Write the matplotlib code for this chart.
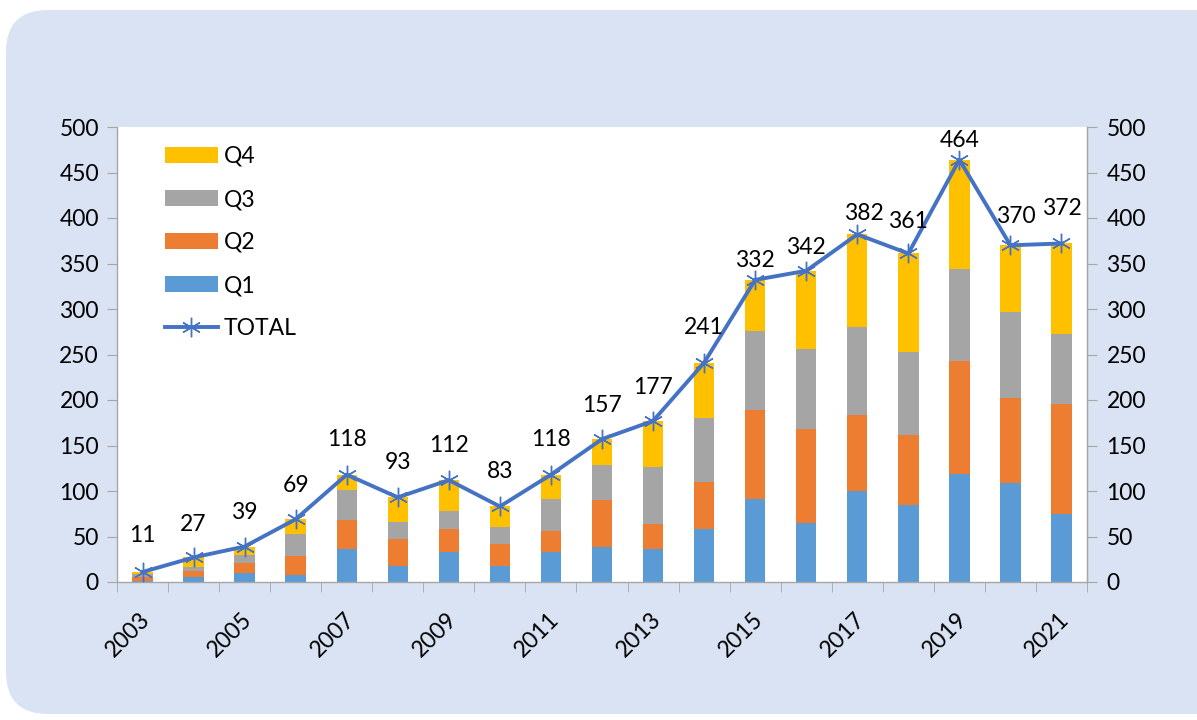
import matplotlib
matplotlib.use("Agg")
import matplotlib.pyplot as plt
from matplotlib.patches import FancyBboxPatch, Patch
from matplotlib.lines import Line2D
import matplotlib.transforms as mtransforms
import numpy as np

# --- data ---
years = list(range(2003, 2022))
q1 = [1, 5, 10, 8, 36, 18, 33, 18, 33, 38, 36, 58, 91, 65, 100, 85, 119, 109, 75]
q2 = [5, 7, 11, 21, 32, 29, 25, 24, 23, 52, 28, 52, 98, 103, 83, 77, 124, 93, 121]
q3 = [3, 5, 9, 24, 33, 19, 20, 18, 35, 39, 62, 70, 87, 88, 97, 91, 101, 95, 77]
q4 = [2, 10, 9, 16, 17, 27, 34, 23, 27, 28, 51, 61, 56, 86, 102, 108, 120, 73, 99]
total = [11, 27, 39, 69, 118, 93, 112, 83, 118, 157, 177, 241, 332, 342, 382, 361, 464, 370, 372]

# label placement (pixels above / right of each TOTAL point)
label_dy = [36, 33, 34, 34, 35, 35, 35, 35, 35, 34, 33, 35, 19, 23, 21, 32, 19, 29, 35]
label_dx = [0, 0, 0, 0, 0, 0, 0, 0, 0, 0, 0, 0, 0, 0, 7, 0, 0, 5, 0]

C_Q1 = "#5B9BD5"
C_Q2 = "#ED7D31"
C_Q3 = "#A5A5A5"
C_Q4 = "#FFC000"
C_LINE = "#4472C4"
C_BG = "#DAE3F3"
C_AXIS = "#A6A6A6"

plt.rcParams["font.family"] = ["Lato", "DejaVu Sans"]
FS = 16.5

fig = plt.figure(figsize=(11.97, 7.2), dpi=100)
fig.patch.set_facecolor("white")
bg = FancyBboxPatch((6 / 1197, 6 / 720), 1.05, (716 - 12) / 720,
                    boxstyle="round,pad=0,rounding_size=0.035",
                    transform=fig.transFigure, facecolor=C_BG, edgecolor="none",
                    mutation_aspect=1197 / 720, zorder=-10)
fig.add_artist(bg)

ax = fig.add_axes([117 / 1197, 1 - 582 / 720, 970 / 1197, 455 / 720])
ax.set_facecolor("white")

x = np.arange(len(years))
w = 0.4
b1 = np.array(q1)
b2 = b1 + np.array(q2)
b3 = b2 + np.array(q3)
ax.bar(x, q1, w, color=C_Q1, zorder=2)
ax.bar(x, q2, w, bottom=b1, color=C_Q2, zorder=2)
ax.bar(x, q3, w, bottom=b2, color=C_Q3, zorder=2)
ax.bar(x, q4, w, bottom=b3, color=C_Q4, zorder=2)

ax.plot(x, total, color=C_LINE, lw=2.8, marker=(6, 2, 0), markersize=14,
        markeredgewidth=1.0, markeredgecolor=C_LINE, zorder=3)

for i, v in enumerate(total):
    ax.annotate(str(v), (x[i], v), xytext=(label_dx[i], label_dy[i]),
                textcoords="offset pixels", ha="center", va="center",
                fontsize=FS, color="black", zorder=4)

ax.set_xlim(-0.5, len(years) - 0.5)
ax.set_ylim(0, 500)
ax.set_yticks(np.arange(0, 501, 50))

ax.spines["top"].set_visible(False)
for side in ["left", "bottom", "right"]:
    ax.spines[side].set_color(C_AXIS)
    ax.spines[side].set_linewidth(1.0)

# x axis: tick marks between categories, labels on odd years
ax.set_xticks(np.arange(-0.5, len(years), 1.0), minor=True)
ax.set_xticks(x[::2])
ax.set_xticklabels([str(y) for y in years[::2]], rotation=45, ha="right",
                   va="top", rotation_mode="anchor", fontsize=FS)
ax.tick_params(axis="x", which="major", length=0, pad=19)
ax.tick_params(axis="x", which="minor", length=7, color=C_AXIS, direction="out")
offset = mtransforms.ScaledTranslation(-3 / 100, 0, fig.dpi_scale_trans)
for lab in ax.get_xticklabels():
    lab.set_transform(lab.get_transform() + offset)

ax.tick_params(axis="y", length=7, color=C_AXIS, labelsize=FS, pad=6)

ax2 = ax.twinx()
ax2.set_ylim(0, 500)
ax2.set_yticks(np.arange(0, 501, 50))
ax2.tick_params(axis="y", length=7, color=C_AXIS, labelsize=FS, pad=7)
for side in ["top", "left", "bottom"]:
    ax2.spines[side].set_visible(False)
ax2.spines["right"].set_color(C_AXIS)

handles = [
    Patch(facecolor=C_Q4, label="Q4"),
    Patch(facecolor=C_Q3, label="Q3"),
    Patch(facecolor=C_Q2, label="Q2"),
    Patch(facecolor=C_Q1, label="Q1"),
    Line2D([], [], color=C_LINE, lw=2.8, marker=(6, 2, 0), markersize=14,
           markeredgewidth=1.0, label="TOTAL"),
]
ax.legend(handles=handles, loc="upper left", bbox_to_anchor=(48 / 970, 1 - 19 / 455),
          frameon=False, fontsize=FS, handlelength=2.3, handleheight=0.65,
          handletextpad=0.25, labelspacing=0.96, borderpad=0, borderaxespad=0)

fig.savefig("out.png", dpi=100, facecolor="white")
